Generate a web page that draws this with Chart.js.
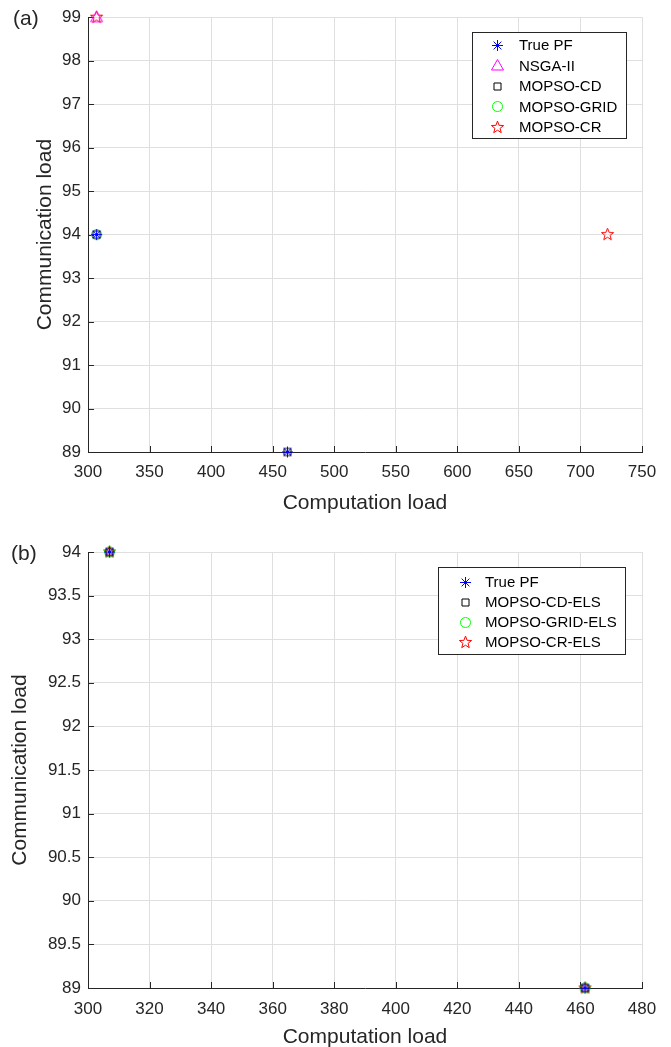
<!DOCTYPE html>
<html>
<head>
<meta charset="utf-8">
<script src="https://cdn.jsdelivr.net/npm/chart.js@4"></script>
<style>
body { margin: 0; background: #fff; overflow: hidden; width: 671px; height: 1047px; position: relative; font-family: "Liberation Sans", Arial, sans-serif; }
.panel { position: absolute; left: 0; width: 671px; }
#pa { top: 0; height: 520px; }
#pb { top: 520px; height: 540px; }
.tag { position: absolute; font-size: 21px; color: #262626; }
</style>
</head>
<body>
<div class="panel" id="pa"><canvas id="chartA"></canvas></div>
<div class="panel" id="pb"><canvas id="chartB"></canvas></div>
<div class="tag" style="left:13px;top:6px">(a)</div>
<div class="tag" style="left:11px;top:541px">(b)</div>
<script>
// panel (a) : [computation load, communication load]
const truePF_A = [[307, 94], [462, 89]];
const nsga2_A = [[307, 99]];
const mopsoCD_A = [[307, 94], [462, 89]];
const mopsoGRID_A = [[307, 94]];
const mopsoCR_A = [[307, 99], [722, 94]];

// panel (b)
const truePF_B = [[307, 94], [461.5, 89]];
const mopsoCDELS_B = [[307, 94], [461.5, 89]];
const mopsoGRIDELS_B = [[307, 94], [461.5, 89]];
const mopsoCRELS_B = [[307, 94], [461.5, 89]];

// axes
const xRangeA = [300, 750], xStepA = 50;
const yRangeA = [89, 99], yStepA = 1;
const xRangeB = [300, 480], xStepB = 20;
const yRangeB = [89, 94], yStepB = 0.5;

const FONT = '"Liberation Sans", Arial, sans-serif';
const INK = '#262626';

// marqueurs façon matlab
function marker(kind, color) {
    let c = document.createElement('canvas');
    c.width = 15; c.height = 15;
    let g = c.getContext('2d');
    g.strokeStyle = color;
    g.lineWidth = 1;
    let m = 7.5;
    g.beginPath();
    if (kind === 'asterisk') {
        let r = 5.5;
        for (let k = 0; k < 4; k++) {
            let a = k * Math.PI / 4;
            g.moveTo(m - r * Math.cos(a), m - r * Math.sin(a));
            g.lineTo(m + r * Math.cos(a), m + r * Math.sin(a));
        }
    } else if (kind === 'triangle') {
        g.moveTo(m, m - 6);
        g.lineTo(m + 6, m + 4.5);
        g.lineTo(m - 6, m + 4.5);
        g.closePath();
    } else if (kind === 'square') {
        g.rect(4, 4, 7, 7);
    } else if (kind === 'circle') {
        g.arc(m, m, 5, 0, Math.PI * 2);
    } else {
        for (let i = 0; i < 10; i++) {
            let a = -Math.PI / 2 + i * Math.PI / 5;
            let r = i % 2 ? 2.7 : 6.4;
            let px = m + r * Math.cos(a), py = m + r * Math.sin(a);
            if (i === 0) g.moveTo(px, py); else g.lineTo(px, py);
        }
        g.closePath();
    }
    g.stroke();
    return c;
}

const mkAst = marker('asterisk', '#0000ff');
const mkTri = marker('triangle', '#ff00ff');
const mkSq = marker('square', '#000000');
const mkCirc = marker('circle', '#00ff00');
const mkStar = marker('pentagram', '#ff0000');

// petits traits de graduation vers l'intérieur
const innerTicks = {
    id: 'innerTicks',
    beforeDatasetsDraw(chart) {
        let ctx = chart.ctx, a = chart.chartArea;
        let x = chart.scales.x, y = chart.scales.y;
        ctx.save();
        ctx.strokeStyle = INK;
        ctx.lineWidth = 1;
        ctx.beginPath();
        x.ticks.forEach(function(t) {
            let px = Math.round(x.getPixelForValue(t.value)) + 0.5;
            ctx.moveTo(px, a.bottom);
            ctx.lineTo(px, a.bottom - 6);
        });
        y.ticks.forEach(function(t) {
            let py = Math.round(y.getPixelForValue(t.value)) + 0.5;
            ctx.moveTo(a.left, py);
            ctx.lineTo(a.left + 6, py);
        });
        ctx.stroke();
        ctx.restore();
    }
};

// légende encadrée dans la zone du graphique
const boxLegend = {
    id: 'boxLegend',
    afterDraw(chart, args, o) {
        let ctx = chart.ctx;
        ctx.save();
        ctx.fillStyle = '#fff';
        ctx.fillRect(o.x, o.y, o.w, o.h);
        ctx.strokeStyle = INK;
        ctx.lineWidth = 1;
        ctx.strokeRect(o.x + 0.5, o.y + 0.5, o.w, o.h);
        ctx.font = '15px ' + FONT;
        ctx.fillStyle = '#000';
        ctx.textBaseline = 'middle';
        chart.data.datasets.forEach(function(d, i) {
            let cy = o.rowY + i * o.rowH;
            let img = d.pointStyle;
            ctx.drawImage(img, Math.round(o.markX - img.width / 2), Math.round(cy - img.height / 2));
            ctx.fillText(d.label, o.textX, cy + 1);
        });
        ctx.restore();
    }
};

function toDataset(label, pts, img) {
    return {
        label: label,
        data: pts.map(p => ({ x: p[0], y: p[1] })),
        pointStyle: img,
        pointRadius: 7,
        showLine: false,
        clip: false
    };
}

function makePanel(id, datasets, o) {
    return new Chart(document.getElementById(id), {
        type: 'scatter',
        data: { datasets: datasets },
        options: {
            responsive: true,
            maintainAspectRatio: false,
            animation: false,
            events: [],
            layout: { padding: { top: o.top, right: 29, left: 0, bottom: 0 } },
            plugins: {
                legend: { display: false },
                tooltip: { enabled: false },
                boxLegend: o.legend
            },
            scales: {
                x: {
                    type: 'linear',
                    min: o.xRange[0], max: o.xRange[1],
                    ticks: { stepSize: o.xStep, padding: o.xTickPad, color: INK, font: { family: FONT, size: 17 }, maxRotation: 0, callback: v => String(v) },
                    grid: { color: '#dfdfdf', drawTicks: false },
                    border: { color: INK, width: 1 },
                    title: { display: true, text: 'Computation load', color: INK, font: { family: FONT, size: 21 }, padding: { top: 0, bottom: o.xTitlePad } },
                    afterFit: function(s) { s.height = o.xh; }
                },
                y: {
                    type: 'linear',
                    min: o.yRange[0], max: o.yRange[1],
                    ticks: { stepSize: o.yStep, padding: 7, color: INK, font: { family: FONT, size: 17 }, callback: v => String(v) },
                    grid: { color: '#dfdfdf', drawTicks: false },
                    border: { color: INK, width: 1 },
                    title: { display: true, text: 'Communication load', color: INK, font: { family: FONT, size: 21 }, padding: { top: o.yTitlePad, bottom: 0 } },
                    afterFit: function(s) { s.width = 88; }
                }
            }
        },
        plugins: [innerTicks, boxLegend]
    });
}

makePanel('chartA', [
    toDataset('True PF', truePF_A, mkAst),
    toDataset('NSGA-II', nsga2_A, mkTri),
    toDataset('MOPSO-CD', mopsoCD_A, mkSq),
    toDataset('MOPSO-GRID', mopsoGRID_A, mkCirc),
    toDataset('MOPSO-CR', mopsoCR_A, mkStar)
], {
    top: 14, xh: 68, xTickPad: 10, xTitlePad: 4, yTitlePad: 33,
    xRange: xRangeA, xStep: xStepA, yRange: yRangeA, yStep: yStepA,
    legend: { x: 472, y: 32, w: 154, h: 106, rowY: 45, rowH: 20.5, markX: 497, textX: 519 }
});

makePanel('chartB', [
    toDataset('True PF', truePF_B, mkAst),
    toDataset('MOPSO-CD-ELS', mopsoCDELS_B, mkSq),
    toDataset('MOPSO-GRID-ELS', mopsoGRIDELS_B, mkCirc),
    toDataset('MOPSO-CR-ELS', mopsoCRELS_B, mkStar)
], {
    top: 32, xh: 72, xTickPad: 11, xTitlePad: 10, yTitlePad: 8,
    xRange: xRangeB, xStep: xStepB, yRange: yRangeB, yStep: yStepB,
    legend: { x: 438, y: 47, w: 187, h: 87, rowY: 62, rowH: 20, markX: 465, textX: 485 }
});
</script>
</body>
</html>
